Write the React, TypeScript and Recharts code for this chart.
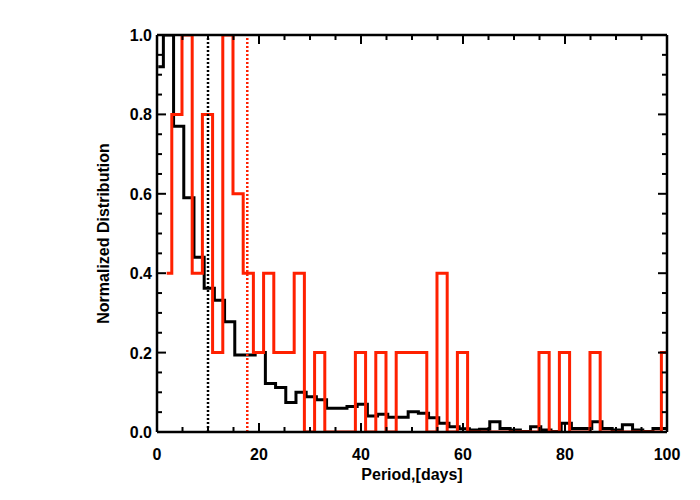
import React from 'react';
import { LineChart, Line, XAxis, YAxis, ReferenceLine, Label } from 'recharts';

// histogram bins are 2 days wide, IDL psym=10 style (drawn from first to last bin centre)
const binWidth = 2;
const redFirstEdge = 0.9;
const blackFirstEdge = -0.75;

const redValues = [
  0.4, 0.8, 1.0, 0.4, 0.8, 0.2, 1.0, 0.6, 0.4, 0.2,
  0.4, 0.2, 0.2, 0.4, 0.0, 0.2, 0.0, 0.0, 0.0, 0.2,
  0.0, 0.2, 0.0, 0.2, 0.2, 0.2, 0.0, 0.4, 0.0, 0.2,
  0.0, 0.0, 0.0, 0.0, 0.0, 0.0, 0.0, 0.2, 0.0, 0.2,
  0.0, 0.0, 0.2, 0.0, 0.0, 0.0, 0.0, 0.0, 0.0, 0.2,
];

const blackValues = [
  0.92, 1.0, 0.77, 0.59, 0.44, 0.362, 0.332, 0.278, 0.194, 0.194,
  0.2, 0.122, 0.112, 0.074, 0.1, 0.089, 0.081, 0.06, 0.06, 0.064,
  0.07, 0.04, 0.045, 0.037, 0.037, 0.051, 0.047, 0.036, 0.022, 0.013,
  0.008, 0.005, 0.007, 0.026, 0.009, 0.005, 0.001, 0.013, 0.005, 0.001,
  0.022, 0.009, 0.009, 0.026, 0.009, 0.005, 0.018, 0.005, 0.001, 0.009,
  0.009,
];

const blackMedian = 10.0;
const redMedian = 17.7;

const xTicks = [0, 5, 10, 15, 20, 25, 30, 35, 40, 45, 50, 55, 60, 65, 70, 75, 80, 85, 90, 95, 100];
const xMajorTicks = [0, 20, 40, 60, 80, 100];
const yTicks = [0, 0.05, 0.1, 0.15, 0.2, 0.25, 0.3, 0.35, 0.4, 0.45, 0.5, 0.55, 0.6, 0.65, 0.7, 0.75, 0.8, 0.85, 0.9, 0.95, 1];
const yMajorTicks = [0, 0.2, 0.4, 0.6, 0.8, 1.0];

const xTitle = 'Period,[days]';
const yTitle = 'Normalized Distribution';

const RED = '#ff2000';
const FONT = '"Liberation Sans", Arial, sans-serif';
const MAJOR = 9;
const MINOR = 5;

const stepPoints = (firstEdge: number, values: number[]) => {
  const n = values.length;
  const pts = [{ x: firstEdge + binWidth / 2, y: values[0] }];
  for (let k = 1; k < n; k++) pts.push({ x: firstEdge + k * binWidth, y: values[k] });
  pts.push({ x: firstEdge + (n - 1) * binWidth + binWidth / 2, y: values[n - 1] });
  return pts;
};

const redData = stepPoints(redFirstEdge, redValues);
const blackData = stepPoints(blackFirstEdge, blackValues);

const isMajor = (v: number, majors: number[]) => majors.some((m) => Math.abs(m - v) < 1e-9);

const textStyle = { fontFamily: FONT, fontWeight: 700, fontSize: 16, fill: '#000' };

const BottomTick = ({ x, y, payload }: any) => {
  const major = isMajor(payload.value, xMajorTicks);
  return (
    <g>
      <line x1={x} x2={x} y1={y} y2={y - (major ? MAJOR : MINOR)} stroke="#000" strokeWidth={2} />
      {major && (
        <text x={x} y={y + 28} textAnchor="middle" style={textStyle}>
          {payload.value}
        </text>
      )}
    </g>
  );
};

const TopTick = ({ x, y, payload }: any) => {
  const major = isMajor(payload.value, xMajorTicks);
  return <line x1={x} x2={x} y1={y} y2={y + (major ? MAJOR : MINOR)} stroke="#000" strokeWidth={2} />;
};

const LeftTick = ({ x, y, payload }: any) => {
  const major = isMajor(payload.value, yMajorTicks);
  return (
    <g>
      <line x1={x} x2={x + (major ? MAJOR : MINOR)} y1={y} y2={y} stroke="#000" strokeWidth={2} />
      {major && (
        <text x={x - 5} y={y + 6} textAnchor="end" style={textStyle}>
          {payload.value.toFixed(1)}
        </text>
      )}
    </g>
  );
};

const RightTick = ({ x, y, payload }: any) => {
  const major = isMajor(payload.value, yMajorTicks);
  return <line x1={x} x2={x - (major ? MAJOR : MINOR)} y1={y} y2={y} stroke="#000" strokeWidth={2} />;
};

const axisLine = { stroke: '#000', strokeWidth: 2.5 };

export default function App() {
  return (
    <div style={{ position: 'absolute', left: 0, top: 0, width: 700, height: 500, background: '#fff' }}>
      <LineChart width={700} height={500} margin={{ top: 34, right: 32, bottom: 28, left: 97 }}>
        <XAxis
          dataKey="x"
          type="number"
          domain={[0, 100]}
          allowDataOverflow
          ticks={xTicks}
          interval={0}
          height={40}
          tickSize={0}
          tickMargin={0}
          tickLine={false}
          axisLine={axisLine}
          tick={<BottomTick />}
        >
          <Label
            content={({ viewBox }: any) => (
              <text x={viewBox.x + viewBox.width / 2} y={viewBox.y + 48} textAnchor="middle" style={textStyle}>
                {xTitle}
              </text>
            )}
          />
        </XAxis>
        <XAxis
          xAxisId="top"
          orientation="top"
          dataKey="x"
          type="number"
          domain={[0, 100]}
          allowDataOverflow
          ticks={xTicks}
          interval={0}
          height={1}
          tickSize={0}
          tickMargin={0}
          tickLine={false}
          axisLine={axisLine}
          tick={<TopTick />}
        />
        <YAxis
          type="number"
          domain={[0, 1]}
          allowDataOverflow
          ticks={yTicks}
          interval={0}
          width={60}
          tickSize={0}
          tickMargin={0}
          tickLine={false}
          axisLine={axisLine}
          tick={<LeftTick />}
        >
          <Label
            content={({ viewBox }: any) => (
              <text
                transform={`translate(${viewBox.x + 12}, ${viewBox.y + viewBox.height / 2}) rotate(-90)`}
                textAnchor="middle"
                style={textStyle}
              >
                {yTitle}
              </text>
            )}
          />
        </YAxis>
        <YAxis
          yAxisId="right"
          orientation="right"
          type="number"
          domain={[0, 1]}
          allowDataOverflow
          ticks={yTicks}
          interval={0}
          width={1}
          tickSize={0}
          tickMargin={0}
          tickLine={false}
          axisLine={axisLine}
          tick={<RightTick />}
        />
        <Line
          data={blackData}
          dataKey="y"
          type="stepAfter"
          stroke="#000"
          strokeWidth={3}
          dot={false}
          activeDot={false}
          isAnimationActive={false}
        />
        <Line
          data={redData}
          dataKey="y"
          type="stepAfter"
          stroke={RED}
          strokeWidth={3}
          dot={false}
          activeDot={false}
          isAnimationActive={false}
        />
        <ReferenceLine x={blackMedian} stroke="#000" strokeWidth={2.5} strokeDasharray="2 2" />
        <ReferenceLine x={redMedian} stroke={RED} strokeWidth={2.5} strokeDasharray="2 2" />
      </LineChart>
    </div>
  );
}
